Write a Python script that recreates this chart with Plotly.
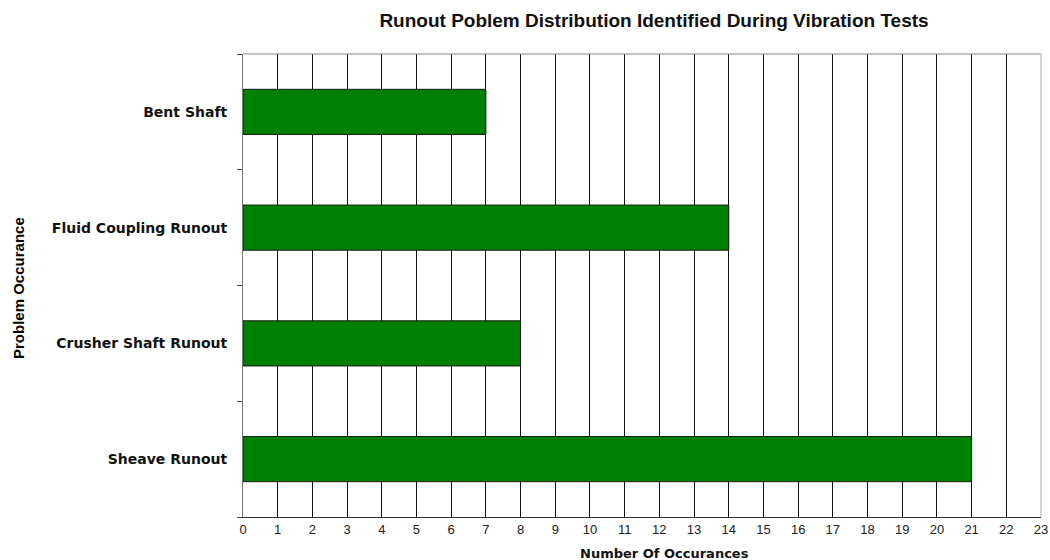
import plotly.graph_objects as go

categories = ["Bent Shaft", "Fluid Coupling Runout", "Crusher Shaft Runout", "Sheave Runout"]
occurrences = [7, 14, 8, 21]
x_ticks = list(range(0, 24))

sans = "Liberation Sans, Arial, sans-serif"
wide = "DejaVu Sans, Liberation Sans, sans-serif"

W, H = 1050, 560
L, R, T, B = 243, 9, 54, 43
pw, ph = W - L - R, H - T - B

def px_x(page_x):
    return (page_x - L) / pw

def px_y(page_y):
    return (H - B - page_y) / ph

fig = go.Figure(go.Bar(
    y=categories, x=occurrences, orientation="h",
    marker=dict(color="#008000", line=dict(color="#1a1a1a", width=1)),
    width=0.39,
    hoverinfo="skip",
))

fig.update_layout(
    width=W, height=H,
    margin=dict(l=L, r=R, t=T, b=B, autoexpand=False),
    paper_bgcolor="white", plot_bgcolor="white",
    showlegend=False,
    title=dict(text="<b>Runout Poblem Distribution Identified During Vibration Tests</b>",
               x=654 / W, xanchor="center", y=1 - 20 / H, yanchor="middle",
               font=dict(family=sans, size=19, color="#111")),
    xaxis=dict(range=[0, 23], tickvals=x_ticks, ticktext=[str(v) for v in x_ticks],
               showgrid=True, gridcolor="#111", gridwidth=1,
               showline=True, linecolor="#333", linewidth=1,
               ticks="", zeroline=False, automargin=False,
               ticklabeloverflow="allow",
               tickfont=dict(family=sans, size=13, color="#222")),
    yaxis=dict(categoryorder="array", categoryarray=categories, autorange="reversed",
               tickson="boundaries", ticks="outside", ticklen=5, tickcolor="#444",
               showgrid=False, showline=True, linecolor="#777", linewidth=1,
               automargin=False,
               tickvals=categories, ticktext=["<b>%s</b>" % c for c in categories],
               tickfont=dict(family=wide, size=14, color="#111"),
               ticklabelstandoff=12),
    annotations=[
        dict(text="<b>Number Of Occurances</b>", x=px_x(664), y=px_y(553),
             xref="paper", yref="paper", xanchor="center", yanchor="middle",
             showarrow=False, font=dict(family=wide, size=13, color="#111")),
        dict(text="<b>Problem Occurance</b>", x=px_x(18), y=px_y(288),
             xref="paper", yref="paper", xanchor="center", yanchor="middle",
             textangle=-90, showarrow=False,
             font=dict(family=sans, size=15, color="#000")),
    ],
    shapes=[
        dict(type="line", xref="paper", yref="paper", x0=0, x1=1, y0=1, y1=1,
             line=dict(color="#888", width=1)),
        dict(type="line", xref="paper", yref="paper", x0=1, x1=1, y0=0, y1=1,
             line=dict(color="#aaa", width=1)),
    ],
)

fig.write_html(
    "out.html",
    config={"displayModeBar": False},
    post_script="document.documentElement.style.overflow='hidden';"
                "document.body.style.overflow='hidden';"
                "document.body.style.margin='0';",
)
